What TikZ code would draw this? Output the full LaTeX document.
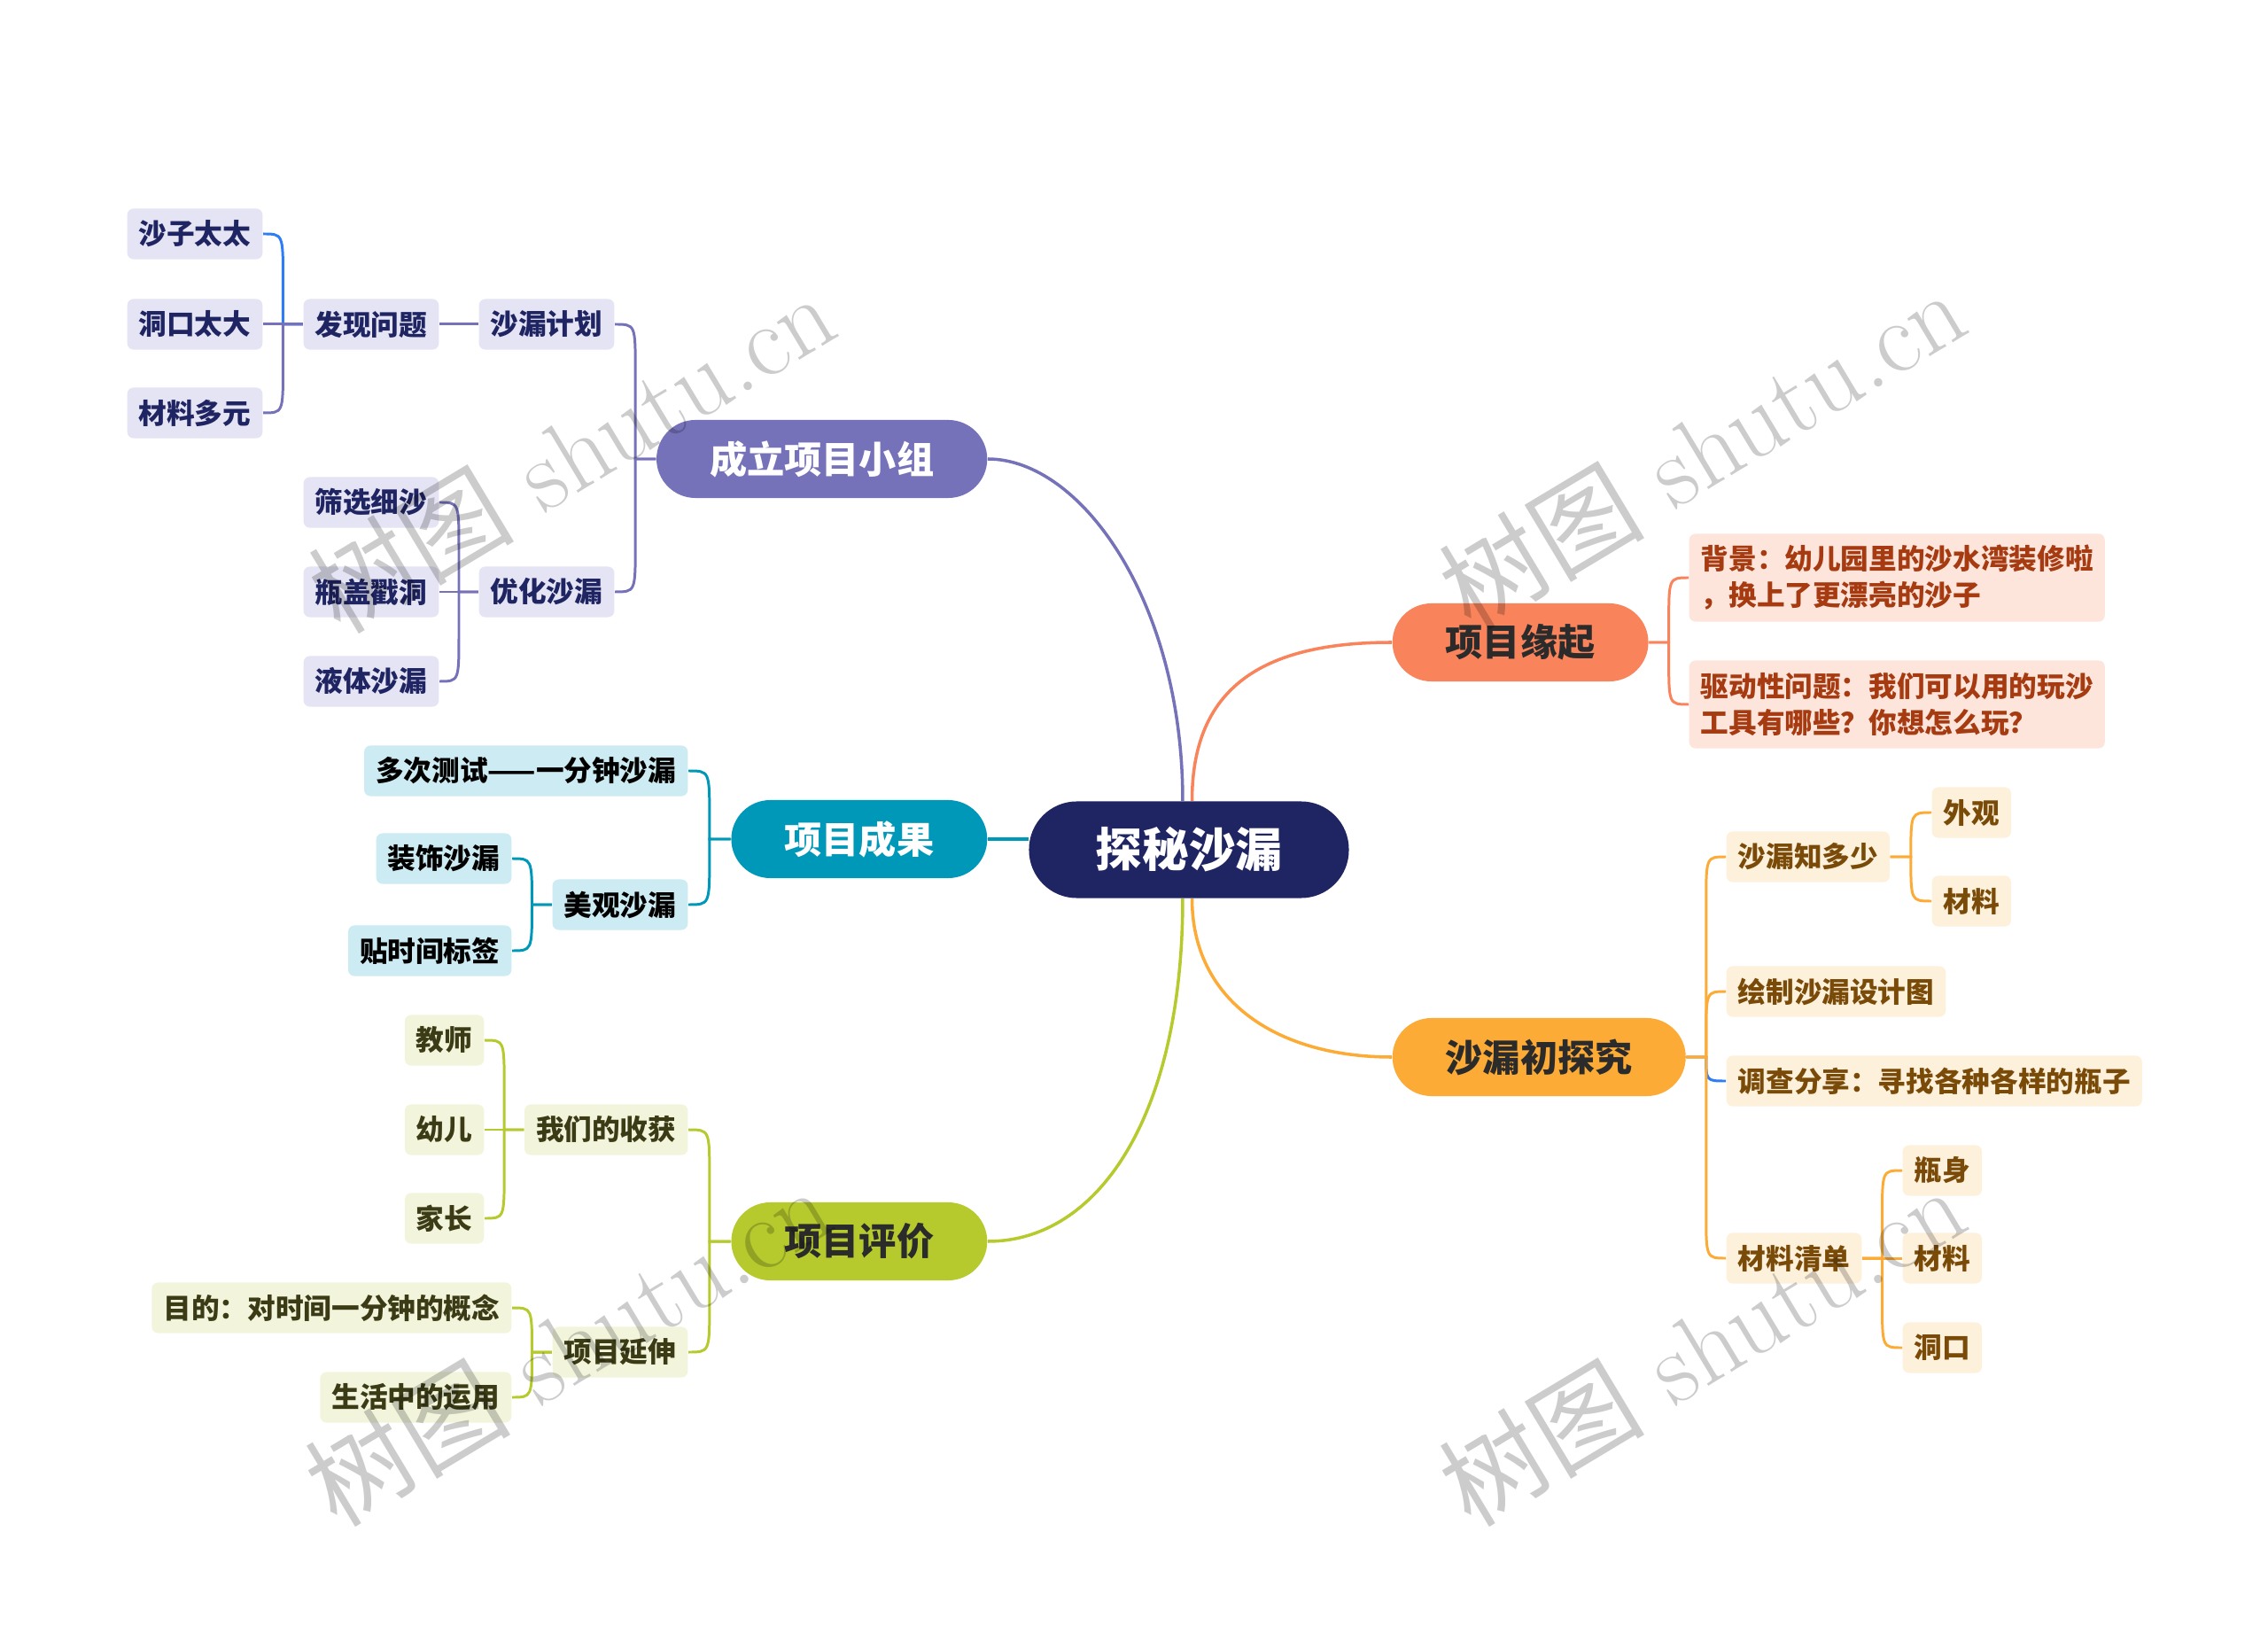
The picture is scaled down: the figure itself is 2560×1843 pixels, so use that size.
\documentclass[tikz,border=0pt]{standalone}
\usepackage{fontspec}
\newfontfamily\cjk{Noto Sans CJK SC}
\usetikzlibrary{calc}

\definecolor{cRoot}{HTML}{1F2462}
\definecolor{cGrp}{HTML}{7672B9}
\definecolor{cGrpL}{HTML}{E5E4F4}
\definecolor{cRes}{HTML}{0098B8}
\definecolor{cResL}{HTML}{CCEBF2}
\definecolor{cEva}{HTML}{B6CA2E}
\definecolor{cEvaL}{HTML}{F2F5DC}
\definecolor{cEvaT}{HTML}{3B3B16}
\definecolor{cOri}{HTML}{F9835A}
\definecolor{cOriL}{HTML}{FEE5DB}
\definecolor{cOriT}{HTML}{A63A10}
\definecolor{cExp}{HTML}{FCAB36}
\definecolor{cExpL}{HTML}{FEF1DC}
\definecolor{cExpT}{HTML}{7A4B08}
\definecolor{cDark}{HTML}{2B2B2B}
\definecolor{cBlue}{HTML}{2E7CF6}

\begin{document}
\begin{tikzpicture}[x=0.01cm,y=-0.01cm,
    root node/.style={rounded corners=0.54cm,fill=cRoot,text=white,minimum height=1.09cm,inner xsep=0.75cm,font=\cjk\bfseries\fontsize{15}{18}\selectfont},
    main node/.style={rounded corners=0.44cm,minimum height=0.88cm,inner xsep=0.6cm,font=\cjk\bfseries\fontsize{12}{14}\selectfont},
    leaf/.style={rounded corners=0.07cm,minimum height=0.57cm,inner xsep=0.13cm,font=\cjk\bfseries\fontsize{9}{11.7}\selectfont},
    grp leaf/.style={leaf,fill=cGrpL,text=cRoot,anchor=east},
    res leaf/.style={leaf,fill=cResL,text=black,anchor=east},
    eva leaf/.style={leaf,fill=cEvaL,text=cEvaT,anchor=east},
    ori leaf/.style={leaf,fill=cOriL,text=cOriT,anchor=west,align=left,minimum height=0.99cm},
    exp leaf/.style={leaf,fill=cExpL,text=cExpT,anchor=west},
    main line/.style={line width=1pt},
    fork line/.style={line width=0.85pt},
    fork/.style={to path={let \p1=(\tikztostart),\p2=(\tikztotarget),
      \p3=($(\p1)!0.5!(\p2)$),\n2={(\y1)-(\y2)},\n3={min(15,abs(\n2))*sign(\n2)} in
      (\p1) -- (\x3,\y1) -- (\x3,{\y2+\n3}) .. controls (\x3,\y2) .. (\p2)}},
    watermark/.style={text=black,text opacity=0.2,font=\fontsize{33}{33}\selectfont,rotate=31}]
  \path[fill=white,use as bounding box] (0,0) rectangle (2560,1843);

  % centre and main branches
  \node[root node] (root) at (1342,959) {探秘沙漏};
  \node[main node,fill=cGrp,text=white,anchor=east] (grp) at (1115,518) {成立项目小组};
  \node[main node,fill=cRes,text=white,anchor=east] (res) at (1115,947) {项目成果};
  \node[main node,fill=cEva,text=cDark,anchor=east] (eva) at (1115,1401) {项目评价};
  \node[main node,fill=cOri,text=cDark,anchor=west] (ori) at (1571,725) {项目缘起};
  \node[main node,fill=cExp,text=cDark,anchor=west] (exp) at (1571,1193) {沙漏初探究};

  % 成立项目小组
  \node[grp leaf] (plan) at (694,366) {沙漏计划};
  \node[grp leaf] (find) at (496,366) {发现问题};
  \node[grp leaf] (sand) at (297,264) {沙子太太};
  \node[grp leaf] (hole) at (297,366) {洞口太大};
  \node[grp leaf] (mat) at (297,466) {材料多元};
  \node[grp leaf] (opt) at (694,668) {优化沙漏};
  \node[grp leaf] (sift) at (496,567) {筛选细沙};
  \node[grp leaf] (cap) at (496,668) {瓶盖戳洞};
  \node[grp leaf] (liq) at (496,769) {液体沙漏};

  % 项目成果
  \node[res leaf] (test) at (777,870) {多次测试——一分钟沙漏};
  \node[res leaf] (look) at (777,1021) {美观沙漏};
  \node[res leaf] (deco) at (578,969) {装饰沙漏};
  \node[res leaf] (tag) at (578,1073) {贴时间标签};

  % 项目评价
  \node[eva leaf] (gain) at (777,1275) {我们的收获};
  \node[eva leaf] (tch) at (547,1174) {教师};
  \node[eva leaf] (kid) at (547,1275) {幼儿};
  \node[eva leaf] (par) at (547,1375) {家长};
  \node[eva leaf] (ext) at (777,1526) {项目延伸};
  \node[eva leaf] (aim) at (578,1476) {目的：对时间一分钟的概念};
  \node[eva leaf] (life) at (578,1577) {生活中的运用};

  % 项目缘起
  \node[ori leaf] (bg) at (1906,652) {背景：幼儿园里的沙水湾装修啦\\，换上了更漂亮的沙子};
  \node[ori leaf] (drv) at (1906,795) {驱动性问题：我们可以用的玩沙\\工具有哪些？你想怎么玩？};

  % 沙漏初探究
  \node[exp leaf] (know) at (1948,967) {沙漏知多少};
  \node[exp leaf] (outl) at (2180,917) {外观};
  \node[exp leaf] (matl) at (2180,1017) {材料};
  \node[exp leaf] (sketch) at (1948,1119) {绘制沙漏设计图};
  \node[exp leaf] (survey) at (1948,1220) {调查分享：寻找各种各样的瓶子};
  \node[exp leaf] (list) at (1948,1420) {材料清单};
  \node[exp leaf] (body) at (2147,1321) {瓶身};
  \node[exp leaf] (matb) at (2147,1420) {材料};
  \node[exp leaf] (mouth) at (2147,1521) {洞口};

  % root to branches
  \draw[main line,cGrp] ([xshift=-2pt]root.north) .. controls +(0,-225) and +(105,0) .. (grp.east);
  \draw[main line,cOri] ([xshift=1pt]root.north) .. controls +(0,-125) and +(-150,0) .. (ori.west);
  \draw[main line,cRes] (root.west |- res.east) -- (res.east);
  \draw[main line,cEva] ([xshift=-2pt]root.south) .. controls +(0,245) and +(125,0) .. (eva.east);
  \draw[main line,cExp] ([xshift=1pt]root.south) .. controls +(0,115) and +(-130,0) .. (exp.west);

  % forks
  \path[fork line,cGrp]
    (grp.west) edge[fork] (plan.east)
    (grp.west) edge[fork] (opt.east)
    (plan.west) edge (find.east)
    (find.west) edge[fork,cBlue] (sand.east)
    (find.west) edge[fork] (hole.east)
    (find.west) edge[fork] (mat.east)
    (opt.west) edge[fork] (sift.east)
    (opt.west) edge[fork] (cap.east)
    (opt.west) edge[fork] (liq.east);
  \path[fork line,cRes]
    (res.west) edge[fork] (test.east)
    (res.west) edge[fork] (look.east)
    (look.west) edge[fork] (deco.east)
    (look.west) edge[fork] (tag.east);
  \path[fork line,cEva]
    (eva.west) edge[fork] (gain.east)
    (eva.west) edge[fork] (ext.east)
    (gain.west) edge[fork] (tch.east)
    (gain.west) edge[fork] (kid.east)
    (gain.west) edge[fork] (par.east)
    (ext.west) edge[fork] (aim.east)
    (ext.west) edge[fork] (life.east);
  \path[fork line,cOri]
    (ori.east) edge[fork] (bg.west)
    (ori.east) edge[fork] (drv.west);
  \path[fork line,cExp]
    (exp.east) edge[fork,cBlue] (survey.west)
    (exp.east) edge[fork] (know.west)
    (exp.east) edge[fork] (sketch.west)
    (exp.east) edge[fork] (list.west)
    (know.east) edge[fork] (outl.west)
    (know.east) edge[fork] (matl.west)
    (list.east) edge[fork] (body.west)
    (list.east) edge[fork] (matb.west)
    (list.east) edge[fork] (mouth.west);

  % watermarks
  \node[watermark] (wm1) at (645,510) {{\cjk 树图} shutu.cn};
  \node[watermark] (wm2) at (1921,506) {{\cjk 树图} shutu.cn};
  \node[watermark] (wm3) at (1921,1518) {{\cjk 树图} shutu.cn};
  \node[watermark] (wm4) at (641,1518) {{\cjk 树图} shutu.cn};
\end{tikzpicture}
\end{document}
